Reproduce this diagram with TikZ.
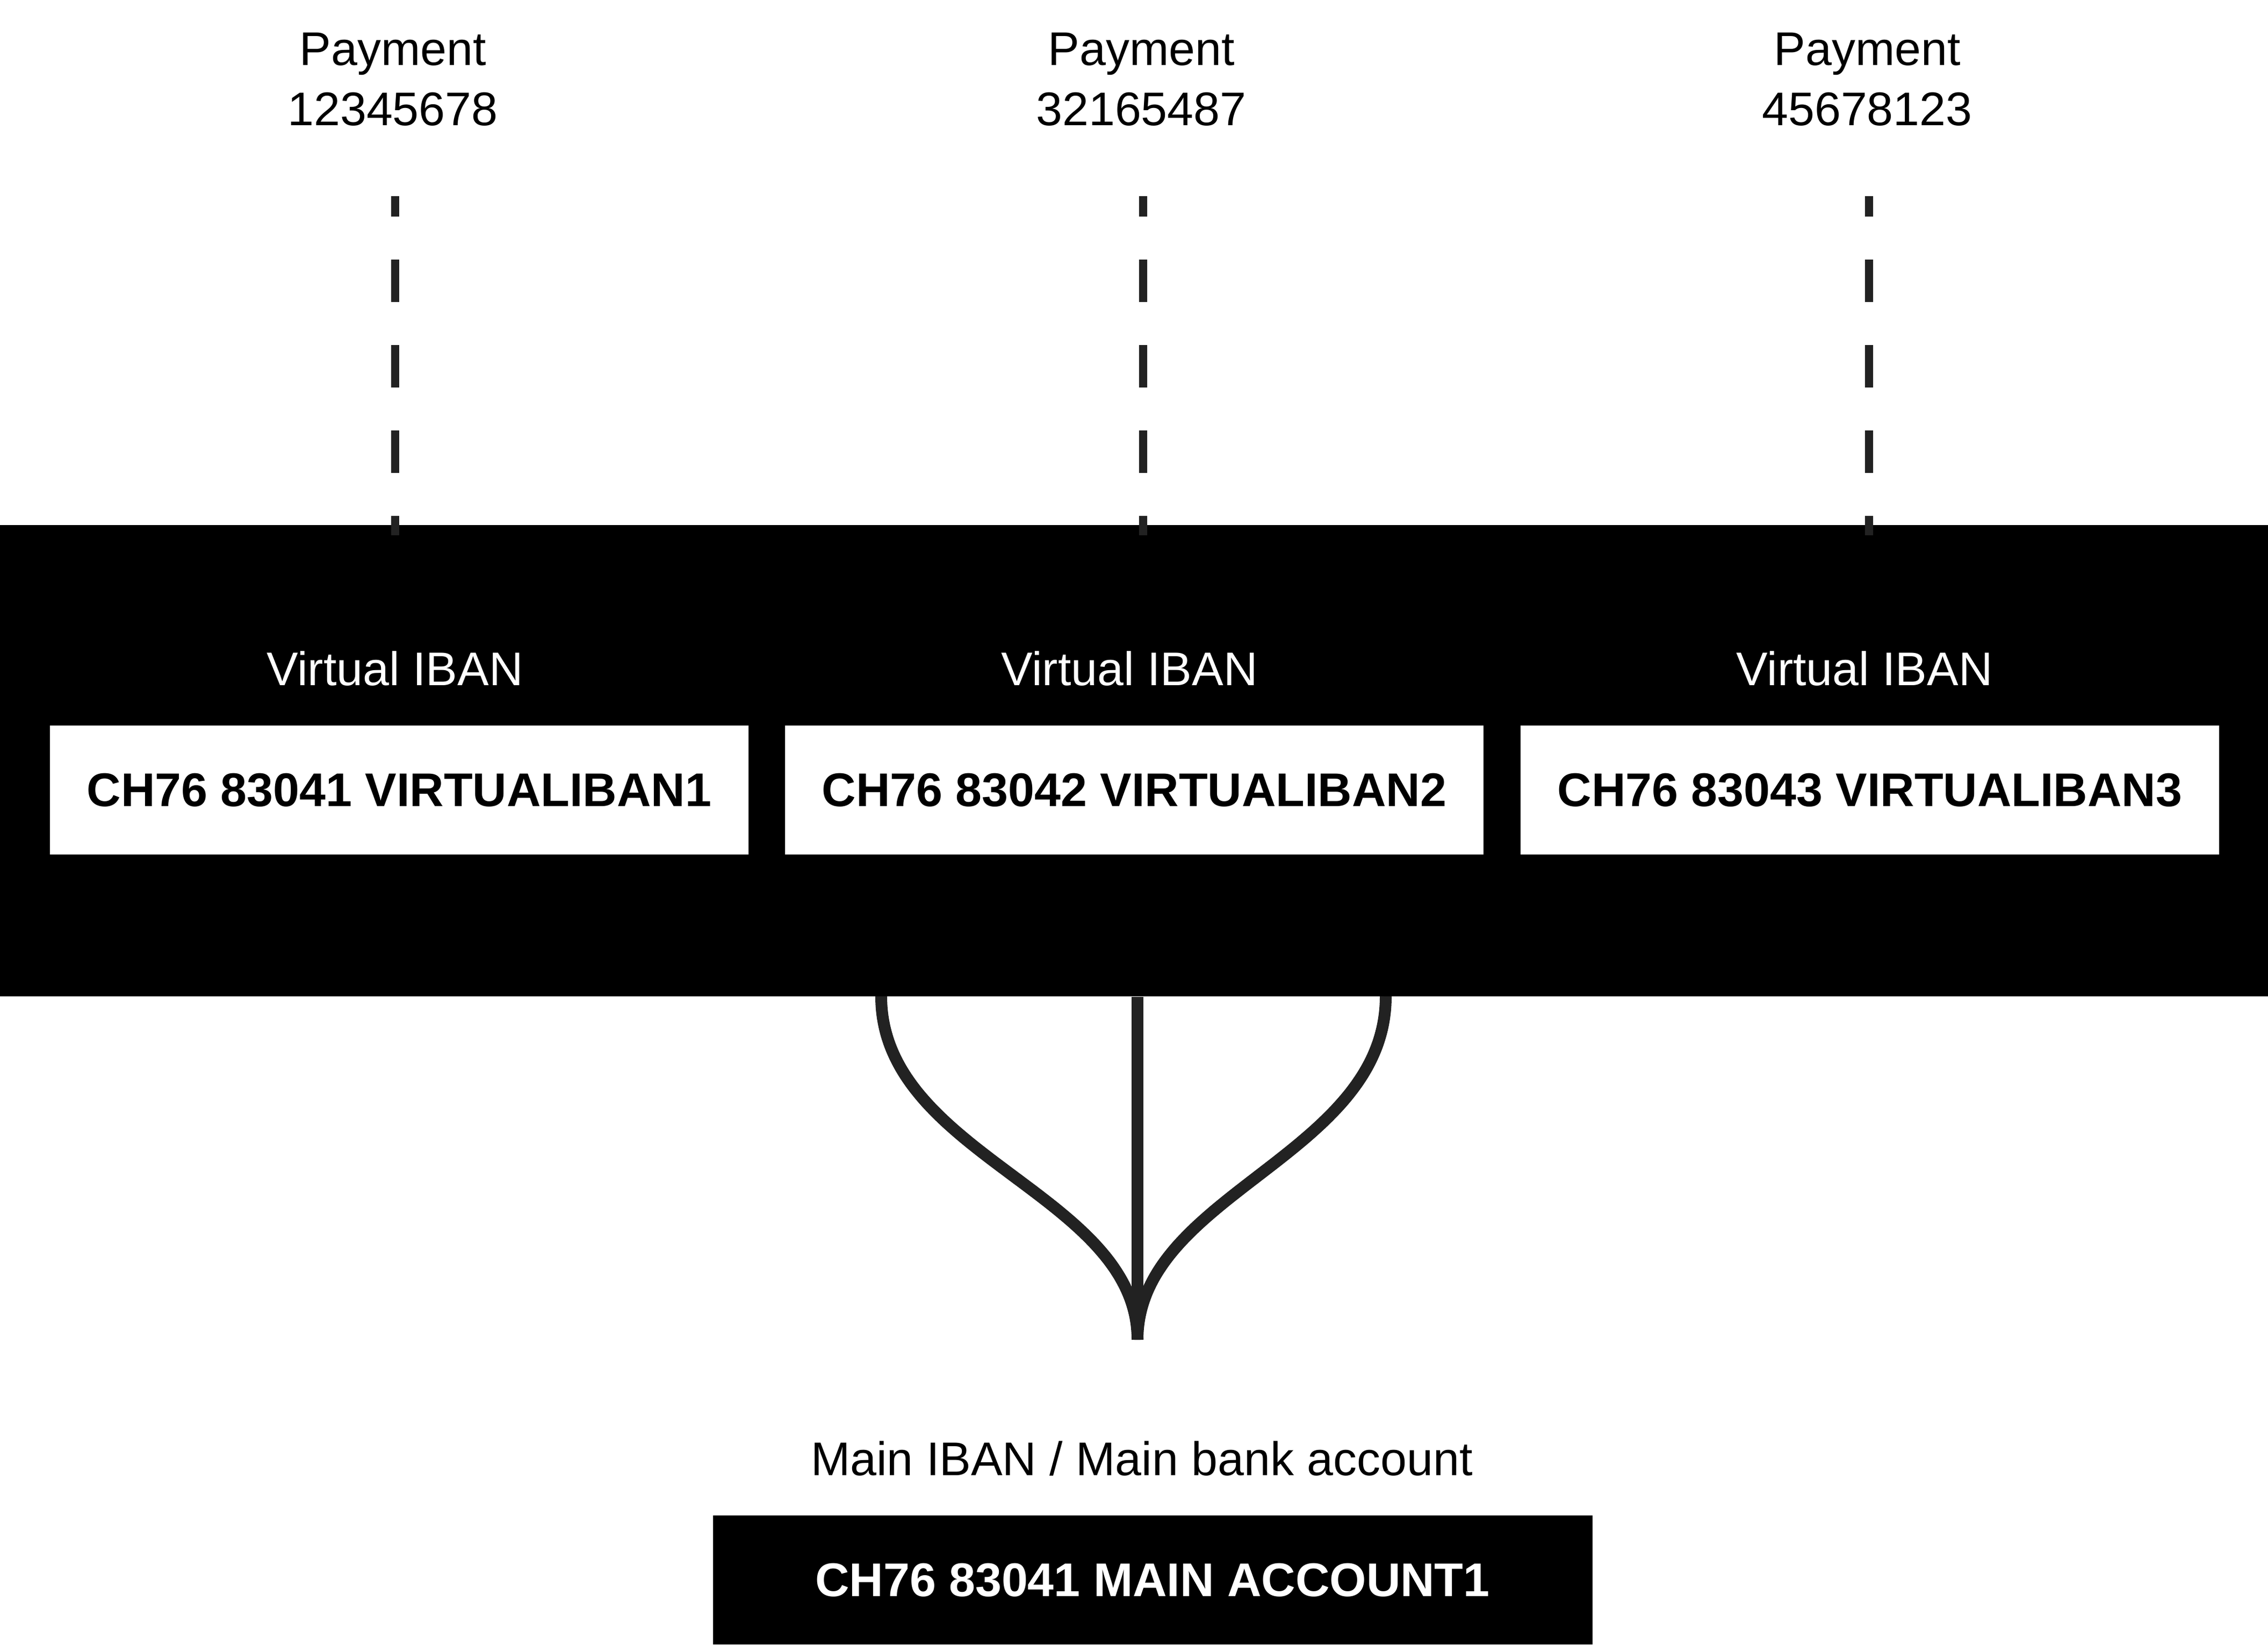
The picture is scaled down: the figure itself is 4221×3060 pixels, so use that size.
\documentclass[tikz,border=0pt]{standalone}
\usepackage{fontspec}
\setmainfont{Liberation Sans}
\usepackage{tikz}
\usetikzlibrary{positioning}
\usepackage{xcolor}
\definecolor{darkline}{HTML}{222222}

\begin{document}
\begin{tikzpicture}[x=0.01cm,y=-0.01cm]
	\tikzstyle{txt} = [inner sep=0,anchor=base,font=\fontsize{25}{30}\selectfont]
	\tikzstyle{ibanbox} = [rectangle,fill=white,inner sep=0,minimum width=12.99cm,minimum height=2.40cm,font=\fontsize{25}{30}\selectfont\bfseries]
	\tikzstyle{mainbox} = [rectangle,fill=black,text=white,inner sep=0,minimum width=16.36cm,minimum height=2.40cm,font=\fontsize{25}{30}\selectfont\bfseries]
	\tikzstyle{dashline} = [darkline,line width=0.15cm,dash pattern=on 0.79cm off 0.80cm,dash phase=0.41cm]
	\tikzstyle{flow} = [darkline,line width=0.22cm]
	\useasboundingbox (0,0) rectangle (4221,3060);
	\fill[white] (0,0) rectangle (4221,3060);
	\node[rectangle,fill=black,inner sep=0,minimum width=42.21cm,minimum height=8.77cm] (band) at (2110.5,1415.5) {};
	\node[txt] (pay1) at (731,121) {Payment};
	\node[txt] (pay2) at (2124,121) {Payment};
	\node[txt] (pay3) at (3475,121) {Payment};
	\node[txt] (num1) at (731,233) {12345678};
	\node[txt] (num2) at (2124,233) {32165487};
	\node[txt] (num3) at (3475,233) {45678123};
	\coordinate (top1) at (735,365);
	\coordinate (top2) at (2127,365);
	\coordinate (top3) at (3478,365);
	\draw[dashline] (top1)--([yshift=-0.2cm]top1 |- band.north);
	\draw[dashline] (top2)--([yshift=-0.2cm]top2 |- band.north);
	\draw[dashline] (top3)--([yshift=-0.2cm]top3 |- band.north);
	\node[txt,text=white] (vlab1) at (735,1275) {Virtual IBAN};
	\node[txt,text=white] (vlab2) at (2102,1275) {Virtual IBAN};
	\node[txt,text=white] (vlab3) at (3470,1275) {Virtual IBAN};
	\node[ibanbox] (v1) at (743,1470) {CH76 83041 VIRTUALIBAN1};
	\node[ibanbox] (v2) at (2111,1470) {CH76 83042 VIRTUALIBAN2};
	\node[ibanbox] (v3) at (3480,1470) {CH76 83043 VIRTUALIBAN3};
	\coordinate (split1) at (1640,1854);
	\coordinate (split3) at (2579,1854);
	\coordinate (merge) at (2117,2493);
	\draw[flow] (split1) .. controls (1640,2150) and (2117,2222) .. (merge);
	\draw[flow] (split3) .. controls (2579,2150) and (2117,2222) .. (merge);
	\draw[flow] (merge |- band.south)--(merge);
	\node[txt] (mainlab) at (2125,2745) {Main IBAN / Main bank account};
	\node[mainbox] (main) at (2145,2940) {CH76 83041 MAIN ACCOUNT1};
\end{tikzpicture}
\end{document}
